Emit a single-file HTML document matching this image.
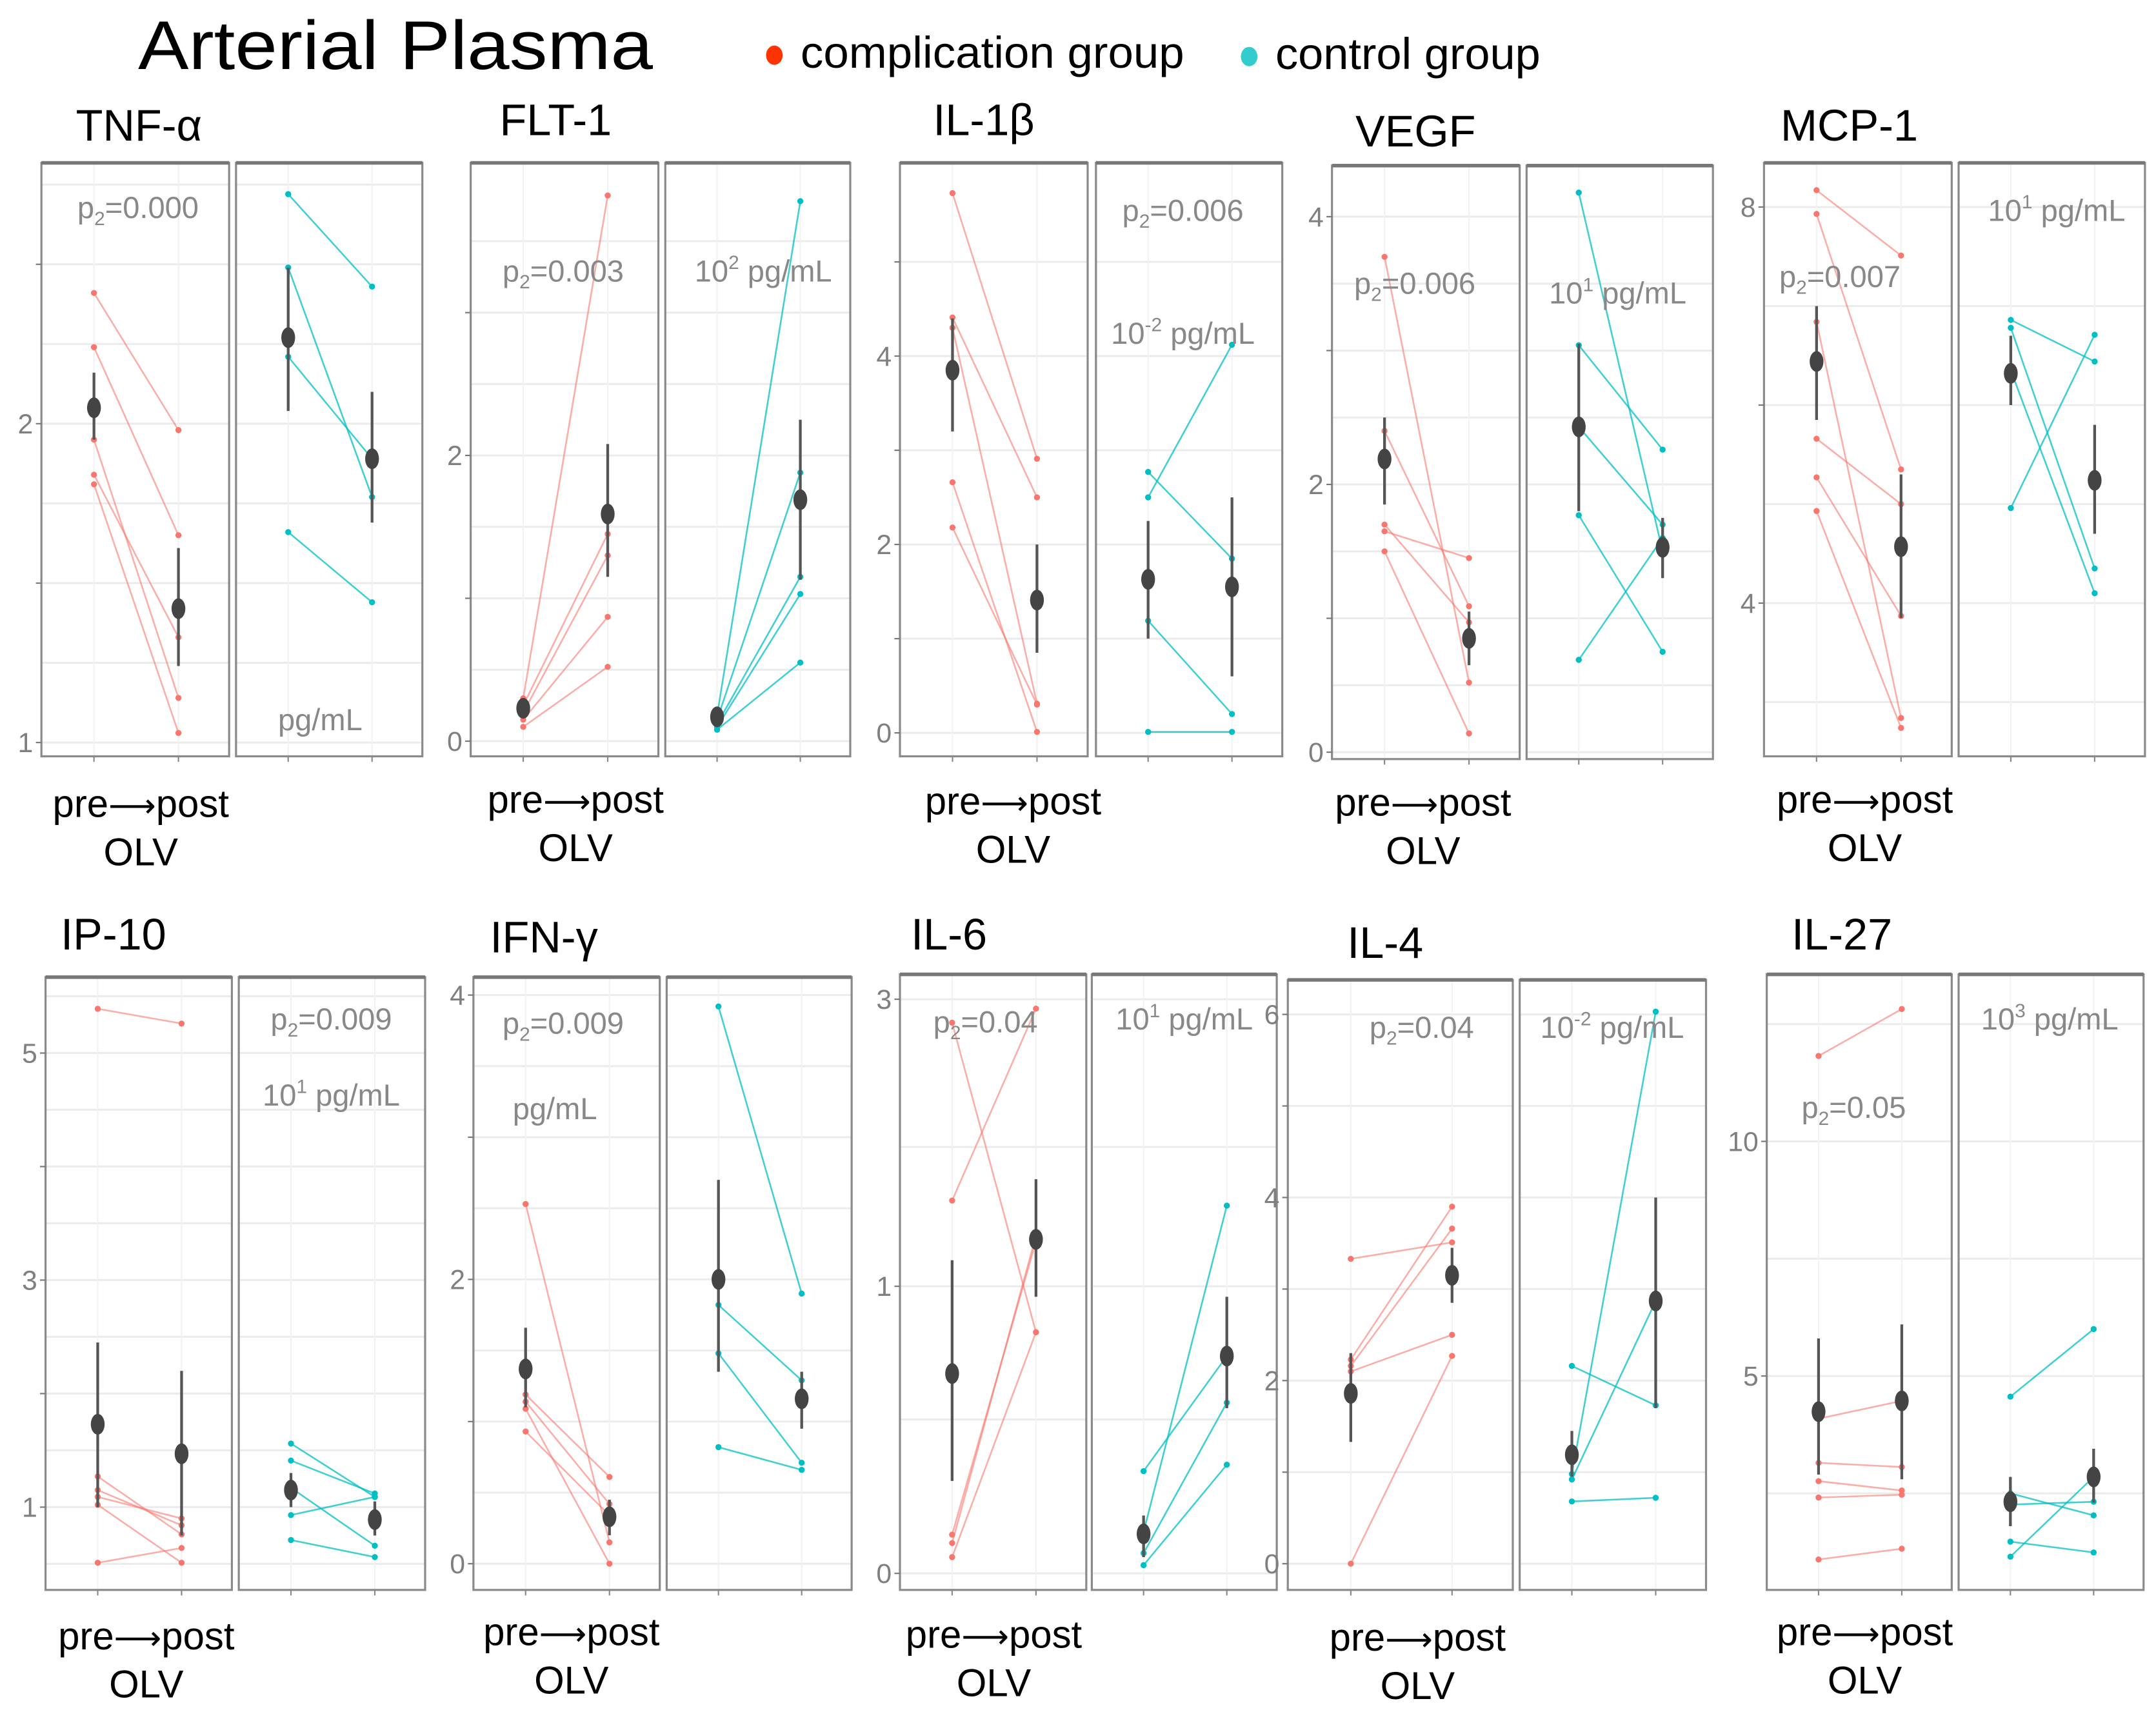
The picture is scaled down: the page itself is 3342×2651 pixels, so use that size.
<!DOCTYPE html>
<html><head><meta charset="utf-8">
<style>
html,body{margin:0;padding:0;background:#fff;}
svg{display:block;}
text{font-family:"Liberation Sans",sans-serif;}
</style></head>
<body>
<svg id="chart" width="3342" height="2651" viewBox="0 0 1562 1239" preserveAspectRatio="none" xmlns="http://www.w3.org/2000/svg">
<rect x="0" y="0" width="1562" height="1239" fill="#fff"/>
<text x="100" y="50" font-size="50" textLength="373" lengthAdjust="spacingAndGlyphs" fill="#000">Arterial Plasma</text>
<g>
<ellipse cx="561" cy="40" rx="6" ry="7" fill="#FF3300"/>
<text x="580" y="49" font-size="32" textLength="278" lengthAdjust="spacingAndGlyphs">complication group</text>
<ellipse cx="905" cy="41" rx="6" ry="7" fill="#33CCCC"/>
<text x="924" y="50" font-size="32" textLength="192" lengthAdjust="spacingAndGlyphs">control group</text>
</g>
<g id="panels"></g>
</svg>
<script>
// ---- data (values in each panel's own units) ----
const tnf_compPre=[2.41,2.24,1.95,1.84,1.81];
const tnf_compPost=[1.98,1.65,1.14,1.33,1.03];
const tnf_ctrlPre=[2.72,2.49,2.21,1.66];
const tnf_ctrlPost=[2.43,1.77,1.89,1.44];
const tnf_compMean=[2.05,1.42]; const tnf_compLo=[1.95,1.24]; const tnf_compHi=[2.16,1.61];
const tnf_ctrlMean=[2.27,1.89]; const tnf_ctrlLo=[2.04,1.69]; const tnf_ctrlHi=[2.49,2.10];

const flt_compPre=[0.3,0.25,0.2,0.15,0.1];
const flt_compPost=[3.82,1.45,1.3,0.87,0.52];
const flt_ctrlPre=[0.18,0.15,0.12,0.1,0.08];
const flt_ctrlPost=[3.78,1.88,1.15,1.03,0.55];
const flt_compMean=[0.23,1.59]; const flt_compLo=[0.17,1.15]; const flt_compHi=[0.3,2.08];
const flt_ctrlMean=[0.17,1.69]; const flt_ctrlLo=[0.1,1.13]; const flt_ctrlHi=[0.22,2.25];

const il1_compPre=[5.73,4.41,4.3,2.66,2.18];
const il1_compPost=[2.91,2.5,0.31,0.01,0.3];
const il1_ctrlPre=[2.5,2.77,1.19,0.01];
const il1_ctrlPost=[4.12,1.85,0.2,0.01];
const il1_compMean=[3.85,1.41]; const il1_compLo=[3.2,0.85]; const il1_compHi=[4.4,2.0];
const il1_ctrlMean=[1.63,1.55]; const il1_ctrlLo=[1.0,0.6]; const il1_ctrlHi=[2.25,2.5];

const vegf_compPre=[3.7,2.4,1.7,1.65,1.5];
const vegf_compPost=[0.52,1.09,0.97,1.45,0.14];
const vegf_ctrlPre=[4.18,3.04,2.43,1.77,0.69];
const vegf_ctrlPost=[1.5,2.26,1.7,0.75,1.6];
const vegf_compMean=[2.19,0.85]; const vegf_compLo=[1.85,0.65]; const vegf_compHi=[2.5,1.05];
const vegf_ctrlMean=[2.43,1.53]; const vegf_ctrlLo=[1.8,1.3]; const vegf_ctrlHi=[3.05,1.75];

const mcp_compPre=[8.17,7.93,6.84,5.66,5.27,4.93];
const mcp_compPost=[7.51,5.35,2.84,5.0,3.87,2.74];
const mcp_ctrlPre=[6.86,6.78,6.35,4.96];
const mcp_ctrlPost=[6.44,4.35,4.1,6.71];
const mcp_compMean=[6.44,4.57]; const mcp_compLo=[5.85,3.85]; const mcp_compHi=[7.0,5.3];
const mcp_ctrlMean=[6.32,5.24]; const mcp_ctrlLo=[6.0,4.7]; const mcp_ctrlHi=[6.7,5.8];

const ip_compPre=[5.39,1.27,1.15,1.09,1.02,0.51];
const ip_compPost=[5.26,0.76,0.84,0.9,0.51,0.64];
const ip_ctrlPre=[1.56,1.41,1.17,0.93,0.71];
const ip_ctrlPost=[1.09,1.12,0.66,1.09,0.56];
const ip_compMean=[1.73,1.47]; const ip_compLo=[1.0,0.75]; const ip_compHi=[2.45,2.2];
const ip_ctrlMean=[1.15,0.89]; const ip_ctrlLo=[1.0,0.75]; const ip_ctrlHi=[1.3,1.05];

const ifn_compPre=[2.53,1.19,1.14,1.09,0.93];
const ifn_compPost=[0.15,0.61,0.42,0.0,0.34];
const ifn_ctrlPre=[3.92,1.82,1.48,0.82];
const ifn_ctrlPost=[1.9,1.29,0.71,0.66];
const ifn_compMean=[1.37,0.33]; const ifn_compLo=[1.10,0.2]; const ifn_compHi=[1.66,0.45];
const ifn_ctrlMean=[2.0,1.16]; const ifn_ctrlLo=[1.35,0.95]; const ifn_ctrlHi=[2.7,1.35];

const il6_compPre=[2.78,1.46,0.098,0.076,0.04];
const il6_compPost=[0.79,2.91,1.23,1.26,0.79];
const il6_ctrlPre=[0.28,0.105,0.05,0.02];
const il6_ctrlPost=[0.69,1.43,0.51,0.30];
const il6_compMean=[0.62,1.24]; const il6_compLo=[0.25,0.95]; const il6_compHi=[1.13,1.59];
const il6_ctrlMean=[0.1,0.69]; const il6_ctrlLo=[0.04,0.49]; const il6_ctrlHi=[0.15,0.95];

const il4_compPre=[3.33,2.23,2.16,2.1,0.0];
const il4_compPost=[3.51,3.9,3.66,2.5,2.27];
const il4_ctrlPre=[2.16,0.98,0.92,0.68];
const il4_ctrlPost=[1.73,6.03,2.87,0.72];
const il4_compMean=[1.86,3.15]; const il4_compLo=[1.33,2.85]; const il4_compHi=[2.3,3.45];
const il4_ctrlMean=[1.19,2.87]; const il4_ctrlLo=[0.95,1.7]; const il4_ctrlHi=[1.45,4.0];

const il27_compPre=[11.82,4.09,3.15,2.76,2.41,1.09];
const il27_compPost=[12.82,4.47,3.06,2.56,2.47,1.32];
const il27_ctrlPre=[4.56,2.5,2.26,1.47,1.15];
const il27_ctrlPost=[6.0,2.03,2.32,1.24,2.85];
const il27_compMean=[4.24,4.47]; const il27_compLo=[2.9,2.8]; const il27_compHi=[5.8,6.1];
const il27_ctrlMean=[2.32,2.85]; const il27_ctrlLo=[1.8,2.3]; const il27_ctrlHi=[2.85,3.45];

const tickLabels={tnf:[1,2],flt:[0,2],il1:[0,2,4],vegf:[0,2,4],mcp:[4,8],ip:[1,3,5],ifn:[0,2,4],il6:[0,1,3],il4:[0,2,4,6],il27:[5,10]};

// ---- layout ----
const panels=[
 {id:'tnf',title:'TNF-α',tx:55,ty:102,L:[30,166],R:[171,306],top:118,bot:548,ref:[2,307,1,538],grid:[1,1.25,1.5,1.75,2,2.25,2.5,2.75],minorTicks:[1.5,2.5],xl:102,xy:592,
  ann:[{k:'p',t:'0.000',x:100,y:158},{k:'u',t:'pg/mL',x:232,y:529}],
  cp:tnf_compPre,cq:tnf_compPost,kp:tnf_ctrlPre,kq:tnf_ctrlPost,cm:tnf_compMean,cl:tnf_compLo,ch:tnf_compHi,km:tnf_ctrlMean,kl:tnf_ctrlLo,kh:tnf_ctrlHi},
 {id:'flt',title:'FLT-1',tx:362,ty:98,L:[341,477],R:[482,616],top:118,bot:548,ref:[2,330,0,537],grid:[0,0.5,1,1.5,2,2.5,3,3.5],minorTicks:[1,3],xl:417,xy:589,
  ann:[{k:'p',t:'0.003',x:408,y:204},{k:'e',e:'2',x:553,y:204}],
  cp:flt_compPre,cq:flt_compPost,kp:flt_ctrlPre,kq:flt_ctrlPost,cm:flt_compMean,cl:flt_compLo,ch:flt_compHi,km:flt_ctrlMean,kl:flt_ctrlLo,kh:flt_ctrlHi},
 {id:'il1',title:'IL-1β',tx:676,ty:98,L:[652,788],R:[794,929],top:118,bot:548,ref:[4,258,0,531],grid:[0,1,2,3,4,5],minorTicks:[1,3,5],xl:734,xy:590,
  ann:[{k:'p',t:'0.006',x:857,y:160},{k:'e',e:'-2',x:857,y:249}],
  cp:il1_compPre,cq:il1_compPost,kp:il1_ctrlPre,kq:il1_ctrlPost,cm:il1_compMean,cl:il1_compLo,ch:il1_compHi,km:il1_ctrlMean,kl:il1_ctrlLo,kh:il1_ctrlHi},
 {id:'vegf',title:'VEGF',tx:982,ty:106,L:[965,1101],R:[1106,1241],top:120,bot:550,ref:[4,157,0,545],grid:[0,0.5,1,1.5,2,2.5,3,3.5,4],minorTicks:[1,3],xl:1031,xy:591,
  ann:[{k:'p',t:'0.006',x:1025,y:213},{k:'e',e:'1',x:1172,y:220}],
  cp:vegf_compPre,cq:vegf_compPost,kp:vegf_ctrlPre,kq:vegf_ctrlPost,cm:vegf_compMean,cl:vegf_compLo,ch:vegf_compHi,km:vegf_ctrlMean,kl:vegf_ctrlLo,kh:vegf_ctrlHi},
 {id:'mcp',title:'MCP-1',tx:1290,ty:102,L:[1278,1414],R:[1419,1554],top:118,bot:548,ref:[8,150,4,437],grid:[3,4,5,6,7,8],minorTicks:[6],xl:1351,xy:589,
  ann:[{k:'p',t:'0.007',x:1333,y:208},{k:'e',e:'1',x:1490,y:160}],
  cp:mcp_compPre,cq:mcp_compPost,kp:mcp_ctrlPre,kq:mcp_ctrlPost,cm:mcp_compMean,cl:mcp_compLo,ch:mcp_compHi,km:mcp_ctrlMean,kl:mcp_ctrlLo,kh:mcp_ctrlHi},
 {id:'ip',title:'IP-10',tx:44,ty:688,L:[33,168],R:[173,308],top:708,bot:1152,ref:[5,763,1,1092],grid:[0.5,1,1.5,2,2.5,3,3.5,4,4.5,5,5.5],minorTicks:[2,4],xl:106,xy:1195,
  ann:[{k:'p',t:'0.009',x:240,y:746},{k:'e',e:'1',x:240,y:801}],
  cp:ip_compPre,cq:ip_compPost,kp:ip_ctrlPre,kq:ip_ctrlPost,cm:ip_compMean,cl:ip_compLo,ch:ip_compHi,km:ip_ctrlMean,kl:ip_ctrlLo,kh:ip_ctrlHi},
 {id:'ifn',title:'IFN-γ',tx:355,ty:690,L:[343,478],R:[483,617],top:708,bot:1152,ref:[4,721,0,1133],grid:[0,0.5,1,1.5,2,2.5,3,3.5,4],minorTicks:[1,3],xl:414,xy:1192,
  ann:[{k:'p',t:'0.009',x:408,y:749},{k:'u',t:'pg/mL',x:402,y:811}],
  cp:ifn_compPre,cq:ifn_compPost,kp:ifn_ctrlPre,kq:ifn_ctrlPost,cm:ifn_compMean,cl:ifn_compLo,ch:ifn_compHi,km:ifn_ctrlMean,kl:ifn_ctrlLo,kh:ifn_ctrlHi},
 {id:'il6',title:'IL-6',tx:660,ty:688,L:[652,787],R:[791,925],top:706,bot:1152,ref:[0,1140,1,932],tf:true,grid:[0,0.45,1,1.8,3],minorTicks:[],xl:720,xy:1194,
  ann:[{k:'p',t:'0.04',x:714,y:748},{k:'e',e:'1',x:858,y:746}],
  cp:il6_compPre,cq:il6_compPost,kp:il6_ctrlPre,kq:il6_ctrlPost,cm:il6_compMean,cl:il6_compLo,ch:il6_compHi,km:il6_ctrlMean,kl:il6_ctrlLo,kh:il6_ctrlHi},
 {id:'il4',title:'IL-4',tx:976,ty:694,L:[933,1096],R:[1101,1236],top:710,bot:1152,ref:[6,735,0,1133],grid:[0,1,2,3,4,5,6],minorTicks:[1,3,5],xl:1027,xy:1196,
  ann:[{k:'p',t:'0.04',x:1030,y:752},{k:'e',e:'-2',x:1168,y:752}],
  cp:il4_compPre,cq:il4_compPost,kp:il4_ctrlPre,kq:il4_ctrlPost,cm:il4_compMean,cl:il4_compLo,ch:il4_compHi,km:il4_ctrlMean,kl:il4_ctrlLo,kh:il4_ctrlHi},
 {id:'il27',title:'IL-27',tx:1298,ty:688,L:[1280,1414],R:[1419,1553],top:706,bot:1152,ref:[10,827,5,997],grid:[2.5,5,7.5,10,12.5],minorTicks:[],xl:1351,xy:1192,
  ann:[{k:'p',t:'0.05',x:1343,y:810},{k:'e',e:'3',x:1485,y:746}],
  cp:il27_compPre,cq:il27_compPost,kp:il27_ctrlPre,kq:il27_ctrlPost,cm:il27_compMean,cl:il27_compLo,ch:il27_compHi,km:il27_ctrlMean,kl:il27_ctrlLo,kh:il27_ctrlHi}
];

const NS='http://www.w3.org/2000/svg';
const root=document.getElementById('panels');
function mk(tag,attrs,parent,txt){const e=document.createElementNS(NS,tag);for(const k in attrs)e.setAttribute(k,attrs[k]);if(txt!==undefined)e.textContent=txt;(parent||root).appendChild(e);return e;}
function yScale(p,v){const t=p.tf?(x=>Math.log1p(x)):(x=>x);const [v1,y1,v2,y2]=p.ref;return y1+(t(v)-t(v1))*(y2-y1)/(t(v2)-t(v1));}
function xPos(box,i){const w=box[1]-box[0];return box[0]+w*(i===0?0.28:0.73);}
const COMP='#F8766D', CTRL='#00BFC4';

panels.forEach(p=>{
  const g=mk('g',{});
  
  
  const t=mk('text',{x:p.tx,y:p.ty,'font-size':32,fill:'#000'},g,p.title);
  
  
  [['L',p.L],['R',p.R]].forEach(([side,box])=>{
    const sg=mk('g',{},g);
    
    
    p.grid.forEach(v=>{const y=yScale(p,v);if(y<p.top+2||y>p.bot-2)return;
      const gl=mk('line',{x1:box[0],x2:box[1],y1:y,y2:y,stroke:'#ebebeb','stroke-width':1.4},sg);
      
      });
    [0,1].forEach(i=>{const x=xPos(box,i);const vl=mk('line',{x1:x,x2:x,y1:p.top,y2:p.bot,stroke:'#f2f2f2','stroke-width':1},sg);
      
      
      const tk=mk('line',{x1:x,x2:x,y1:p.bot,y2:p.bot+4,stroke:'#888','stroke-width':1},sg);
      
      });
    const isComp=side==='L';
    const pre=isComp?p.cp:p.kp, post=isComp?p.cq:p.kq, col=isComp?COMP:CTRL;
    pre.forEach((v,i)=>{
      const x0=xPos(box,0),x1=xPos(box,1),y0=yScale(p,v),y1=yScale(p,post[i]);
      const ln=mk('line',{x1:x0,y1:y0,x2:x1,y2:y1,stroke:col,'stroke-width':1.2,'stroke-opacity':isComp?0.6:0.75},sg);
      
      
      const c0=mk('circle',{cx:x0,cy:y0,r:2.2,fill:col},sg);
      
      
      const c1=mk('circle',{cx:x1,cy:y1,r:2.2,fill:col},sg);
      
      
    });
    const m=isComp?p.cm:p.km, lo=isComp?p.cl:p.kl, hi=isComp?p.ch:p.kh;
    [0,1].forEach(i=>{const x=xPos(box,i);
      const eb=mk('line',{x1:x,x2:x,y1:yScale(p,lo[i]),y2:yScale(p,hi[i]),stroke:'#555','stroke-width':2},sg);
      
      
      const me=mk('ellipse',{cx:x,cy:yScale(p,m[i]),rx:5,ry:7.5,fill:'#444'},sg);
      
      });
    const bx=mk('rect',{x:box[0],y:p.top,width:box[1]-box[0],height:p.bot-p.top,fill:'none',stroke:'#8a8a8a','stroke-width':1.5},sg);
    
    
    const tb=mk('line',{x1:box[0],x2:box[1],y1:p.top,y2:p.top,stroke:'#777','stroke-width':2.6},sg);
    
    
  });
  tickLabels[p.id].forEach(v=>{const y=yScale(p,v);
    const tk=mk('line',{x1:p.L[0]-4,x2:p.L[0],y1:y,y2:y,stroke:'#777','stroke-width':1},g);
    
    
    const tl=mk('text',{x:p.L[0]-6,y:y+7,'font-size':20,fill:'#7f7f7f','text-anchor':'end'},g,String(v));
    
    });
  p.minorTicks.forEach(v=>{const y=yScale(p,v);
    const tk=mk('line',{x1:p.L[0]-4,x2:p.L[0],y1:y,y2:y,stroke:'#777','stroke-width':1},g);
    
    });
  p.ann.forEach(a=>{
    let e;
    if(a.k==='p'){e=mk('text',{x:a.x,y:a.y,'font-size':22,fill:'#888','text-anchor':'middle'},g);
      e.innerHTML='p<tspan font-size="14" dy="5">2</tspan><tspan dy="-5">='+a.t+'</tspan>';
      }
    else if(a.k==='e'){e=mk('text',{x:a.x,y:a.y,'font-size':22,fill:'#888','text-anchor':'middle'},g);
      e.innerHTML='10<tspan font-size="14" dy="-9">'+a.e+'</tspan><tspan dy="9"> pg/mL</tspan>';
      }
    else {e=mk('text',{x:a.x,y:a.y,'font-size':22,fill:'#888','text-anchor':'middle'},g,a.t);
      }
    
  });
  const x1=mk('text',{x:p.xl,y:p.xy,'font-size':28,fill:'#000','text-anchor':'middle'},g);
  x1.innerHTML='pre<tspan font-family="DejaVu Sans" font-size="24">⟶</tspan>post';
  
  
  const x2=mk('text',{x:p.xl,y:p.xy+35,'font-size':28,fill:'#000','text-anchor':'middle'},g,'OLV');
  
  
});
</script>
</body></html>
